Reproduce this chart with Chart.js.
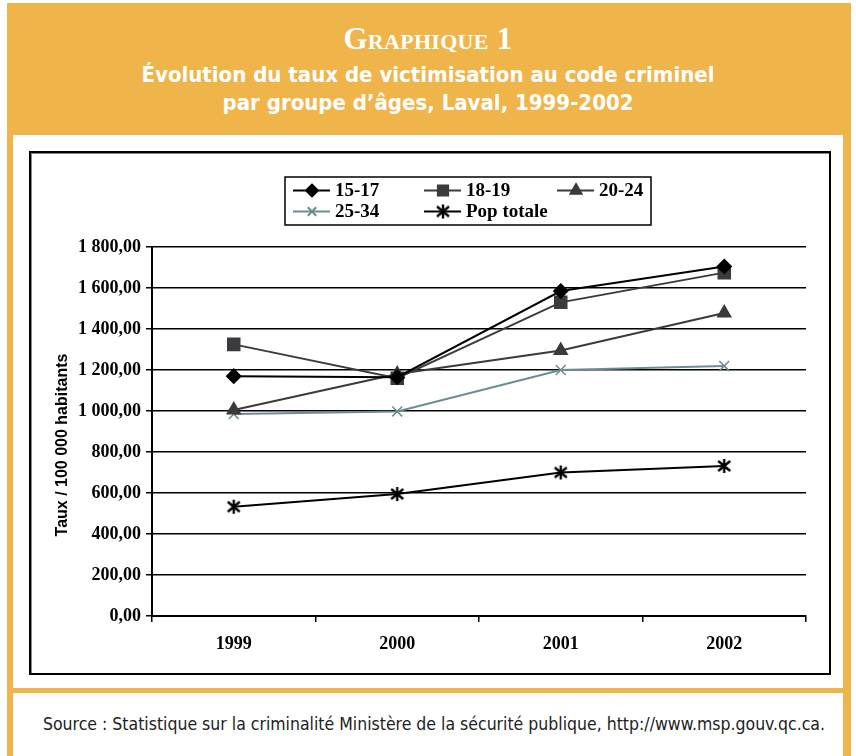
<!DOCTYPE html>
<html>
<head>
<meta charset="utf-8">
<script src="https://cdn.jsdelivr.net/npm/chart.js@4/dist/chart.umd.min.js"></script>
<style>
  body { margin: 0; background: #fff; width: 856px; height: 756px; position: relative; overflow: hidden; }
  .orange { position: absolute; left: 7px; top: 3px; width: 844px; height: 753px; background: #efb54b; }
  .head1 { position: absolute; left: 0; top: 21px; width: 856px; text-align: center; color: #fff;
    font: bold 31px "Liberation Serif", serif; font-variant: small-caps; letter-spacing: 0.3px; }
  .head2 { position: absolute; left: 0; top: 61px; width: 856px; text-align: center; color: #fff;
    font: bold 22px "Liberation Sans Narrow", "DejaVu Sans Condensed", sans-serif; line-height: 28px; }
  .panel { position: absolute; left: 13px; top: 135px; width: 830px; height: 553px; background: #fff; }
  .src { position: absolute; left: 19px; top: 693px; width: 830px; height: 63px;
    text-align: center; font: 17.5px "Liberation Sans Narrow", "DejaVu Sans Condensed", sans-serif; color: #222; line-height: 63px; }
  .srcbg { position: absolute; left: 13px; top: 693px; width: 830px; height: 63px; background: #fff; }
  .frame { position: absolute; left: 29px; top: 151px; width: 802px; height: 524px; border: 2px solid #000;
    box-sizing: border-box; box-shadow: inset 1px 1px 0 #888; }
  canvas { position: absolute; left: 31px; top: 153px; }
</style>
</head>
<body>
<div class="orange"></div>
<div class="head1">Graphique 1</div>
<div class="head2">Évolution du taux de victimisation au code criminel<br>par groupe d’âges, Laval, 1999-2002</div>
<div class="panel"></div>
<div class="srcbg"></div>
<div class="src">Source : Statistique sur la criminalité Ministère de la sécurité publique, http://www.msp.gouv.qc.ca.</div>
<div class="frame"></div>
<canvas id="canvas" width="798" height="520" style="width:798px;height:520px"></canvas>
<script>
// données
const annees = ['1999', '2000', '2001', '2002'];
const groupes = ['15-17', '18-19', '20-24', '25-34', 'Pop totale'];
const taux1517 = [1170, 1165, 1585, 1705];
const taux1819 = [1325, 1160, 1530, 1675];
const taux2024 = [1005, 1180, 1295, 1478];
const taux2534 = [985, 998, 1200, 1220];
const tauxPop = [533, 595, 700, 732];
const yTicks = [0, 200, 400, 600, 800, 1000, 1200, 1400, 1600, 1800];
const titreY = 'Taux / 100 000 habitants';

const serif = '"Liberation Serif", "Times New Roman", serif';

// asterisque pour Pop totale
function asterisk(color) {
    const c = document.createElement('canvas');
    c.width = 16; c.height = 16;
    const g = c.getContext('2d');
    g.strokeStyle = color;
    g.lineWidth = 2.4;
    g.beginPath();
    g.moveTo(8, 1); g.lineTo(8, 15);
    g.moveTo(2, 3); g.lineTo(14, 13);
    g.moveTo(14, 3); g.lineTo(2, 13);
    g.stroke();
    return c;
}
const star = asterisk('#000');

function fmt(v) {
    const s = v.toFixed(2).split('.');
    const ent = s[0].replace(/\B(?=(\d{3})+(?!\d))/g, ' ');
    return ent + ',' + s[1];
}

function serie(label, data, color, style, radius) {
    return {
        label: label,
        data: data,
        borderColor: color,
        backgroundColor: color,
        pointBackgroundColor: color,
        pointBorderColor: color,
        borderWidth: 2,
        pointStyle: style,
        pointRadius: radius,
        pointBorderWidth: 1.5,
        tension: 0,
    };
}

const datasets = [
    serie(groupes[0], taux1517, '#000', 'rectRot', 7),
    serie(groupes[1], taux1819, '#3b3b3d', 'rect', 8.5),
    serie(groupes[2], taux2024, '#3a3a3a', 'triangle', 7.5),
    serie(groupes[3], taux2534, '#6d8c91', 'crossRot', 7),
    serie(groupes[4], tauxPop, '#000', star, 8),
];

// légende encadrée + titre de l'axe y, dessinés à la main
const extras = {
    id: 'extras',
    afterDraw(chart) {
        const ctx = chart.ctx;
        ctx.save();
        ctx.strokeStyle = '#000';
        ctx.lineWidth = 1.5;
        ctx.strokeRect(254, 24, 366, 48);
        const cols = [262, 393, 526];
        const rows = [37.5, 58.5];
        chart.data.datasets.forEach((ds, i) => {
            const x = cols[i % 3];
            const y = rows[Math.floor(i / 3)];
            ctx.strokeStyle = ds.borderColor;
            ctx.lineWidth = 2;
            ctx.beginPath();
            ctx.moveTo(x, y); ctx.lineTo(x + 37, y);
            ctx.stroke();
            const opts = {
                pointStyle: ds.pointStyle,
                radius: ds.pointRadius * 0.85,
                rotation: 0,
                borderWidth: 1.5,
            };
            ctx.fillStyle = ds.pointBackgroundColor;
            ctx.strokeStyle = ds.pointBorderColor;
            if (Chart.helpers && Chart.helpers.drawPoint) {
                Chart.helpers.drawPoint(ctx, opts, x + 19, y);
            }
            ctx.fillStyle = '#000';
            ctx.font = 'bold 19px ' + serif;
            ctx.textBaseline = 'middle';
            ctx.textAlign = 'left';
            ctx.fillText(ds.label, x + 42, y + 1);
        });
        // titre vertical
        ctx.translate(32, 292);
        ctx.rotate(-Math.PI / 2);
        ctx.font = 'bold 16px "Liberation Sans", Arial, sans-serif';
        ctx.textAlign = 'center';
        ctx.textBaseline = 'middle';
        ctx.fillText(titreY, 0, 0);
        ctx.restore();
    }
};

new Chart(document.getElementById('canvas'), {
    type: 'line',
    data: { labels: annees, datasets: datasets },
    plugins: [extras],
    options: {
        responsive: false,
        animation: false,
        layout: { padding: { top: 94, right: 23, left: 0, bottom: 0 } },
        plugins: { legend: { display: false }, tooltip: { enabled: false } },
        scales: {
            x: {
                offset: true,
                grid: { offset: true, drawOnChartArea: false, drawTicks: true, tickLength: 6, color: '#000', lineWidth: 1.5 },
                border: { color: '#000', width: 2 },
                ticks: { color: '#000', font: { family: serif, weight: 'bold', size: 18 }, padding: 12, maxRotation: 0 },
                afterFit(s) { s.height = 57; },
            },
            y: {
                min: 0,
                max: 1800,
                afterBuildTicks(s) { s.ticks = yTicks.map(v => ({ value: v })); },
                ticks: { color: '#000', font: { family: serif, weight: 'bold', size: 18 }, padding: 5, callback: fmt },
                grid: { color: '#000', lineWidth: 1.5, tickLength: 6 },
                border: { color: '#000', width: 2 },
                afterFit(s) { s.width = 121; },
            }
        }
    }
});
</script>
</body>
</html>
